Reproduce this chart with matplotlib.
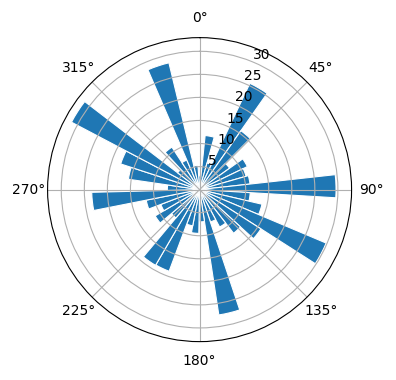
import matplotlib
matplotlib.use('Agg')
import matplotlib.pyplot as plt
import numpy as np

# wind-rose style counts, one value per direction sector (clockwise from north)
n_sectors = 37
counts = [3, 11.8, 6, 25.5, 15.6, 8, 11.5, 10.5, 11, 29.6,
          11, 13.9, 29.8, 15.8, 12, 9.2, 7.4, 27.5, 7, 9.5,
          8, 18.9, 19, 8, 11.2, 9, 11.8, 23.4, 7, 15.6,
          18, 31.4, 6, 11, 7, 28.3, 5.3]

theta = np.deg2rad(np.arange(n_sectors) * 360 / n_sectors + 1)
width = 2 * np.pi / n_sectors

fig = plt.figure(figsize=(3.96, 3.8), dpi=100)
ax = fig.add_axes([0.12, 0.101, 0.768, 0.8], projection='polar')
ax.set_theta_zero_location('N')
ax.set_theta_direction(-1)

ax.bar(theta, counts, width=width, color='#1f77b4', edgecolor='white', linewidth=0.8)

plt.savefig('out.png')
